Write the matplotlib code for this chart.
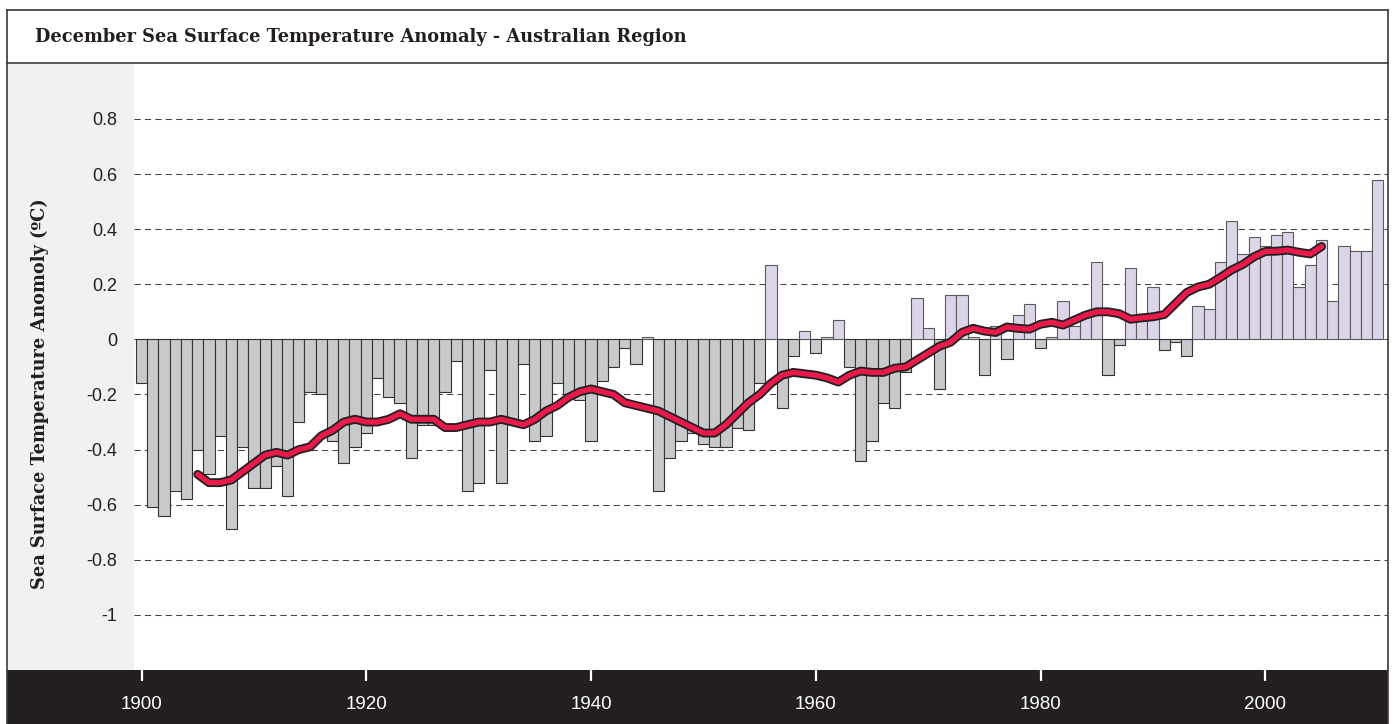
import numpy as np
import matplotlib
matplotlib.use("Agg")
import matplotlib.pyplot as plt
from matplotlib.patches import Rectangle
from matplotlib.lines import Line2D
from matplotlib import font_manager

W, H = 1394, 724

# December SST anomaly, one bar per year 1900-2010
years = np.arange(1900, 2011)
anomaly = [
    -0.16, -0.61, -0.64, -0.55, -0.58, -0.40, -0.49, -0.35, -0.69, -0.39,  # 1900s
    -0.54, -0.54, -0.46, -0.57, -0.30, -0.19, -0.20, -0.37, -0.45, -0.39,  # 1910s
    -0.34, -0.14, -0.21, -0.23, -0.43, -0.31, -0.31, -0.19, -0.08, -0.55,  # 1920s
    -0.52, -0.11, -0.52, -0.30, -0.09, -0.37, -0.35, -0.16, -0.20, -0.22,  # 1930s
    -0.37, -0.15, -0.10, -0.03, -0.09, 0.01, -0.55, -0.43, -0.37, -0.34,   # 1940s
    -0.38, -0.39, -0.39, -0.32, -0.33, -0.16, 0.27, -0.25, -0.06, 0.03,    # 1950s
    -0.05, 0.01, 0.07, -0.10, -0.44, -0.37, -0.23, -0.25, -0.12, 0.15,     # 1960s
    0.04, -0.18, 0.16, 0.16, 0.01, -0.13, 0.05, -0.07, 0.09, 0.13,         # 1970s
    -0.03, 0.01, 0.14, 0.05, 0.08, 0.28, -0.13, -0.02, 0.26, 0.07,         # 1980s
    0.19, -0.04, -0.01, -0.06, 0.12, 0.11, 0.28, 0.43, 0.31, 0.37,         # 1990s
    0.34, 0.38, 0.39, 0.19, 0.27, 0.36, 0.14, 0.34, 0.32, 0.32,            # 2000s
    0.58,
]

# 11-year running mean, 1905-2005
trend_years = np.arange(1905, 2006)
trend = [
    -0.49, -0.52, -0.52, -0.51, -0.48, -0.45, -0.42, -0.41, -0.42, -0.40,
    -0.39, -0.35, -0.33, -0.30, -0.29, -0.30, -0.30, -0.29, -0.27, -0.29,
    -0.29, -0.29, -0.32, -0.32, -0.31, -0.30, -0.30, -0.29, -0.30, -0.31,
    -0.29, -0.26, -0.24, -0.21, -0.19, -0.18, -0.19, -0.20, -0.23, -0.24,
    -0.25, -0.26, -0.28, -0.30, -0.32, -0.34, -0.34, -0.31, -0.27, -0.23,
    -0.20, -0.16, -0.13, -0.12, -0.125, -0.13, -0.14, -0.155, -0.13, -0.115,
    -0.12, -0.12, -0.105, -0.10, -0.075, -0.05, -0.025, -0.01, 0.025, 0.04,
    0.03, 0.025, 0.045, 0.04, 0.037, 0.055, 0.062, 0.052, 0.07, 0.088,
    0.10, 0.10, 0.093, 0.073, 0.078, 0.082, 0.09, 0.13, 0.17, 0.19,
    0.20, 0.225, 0.252, 0.272, 0.30, 0.319, 0.32, 0.324, 0.316, 0.31,
    0.337,
]

y_ticks = [0.8, 0.6, 0.4, 0.2, 0, -0.2, -0.4, -0.6, -0.8, -1]
y_labels = ["0.8", "0.6", "0.4", "0.2", "0", "-0.2", "-0.4", "-0.6", "-0.8", "-1"]
x_ticks = [1900, 1920, 1940, 1960, 1980, 2000]

title = "December Sea Surface Temperature Anomaly - Australian Region"
ylabel = "Sea Surface Temperature Anomoly (ºC)"

installed = {f.name for f in font_manager.fontManager.ttflist}
num_font = "Liberation Sans Narrow" if "Liberation Sans Narrow" in installed else "Liberation Sans"

NEG_FILL = "#c8c9cb"
POS_FILL = "#dcd5e8"
DARK = "#231f20"
RED = "#e8194b"


def box(x0, y0, x1, y1):
    # pixel box (top-left origin) -> figure fraction
    return [x0 / W, 1 - y1 / H, (x1 - x0) / W, (y1 - y0) / H]


fig = plt.figure(figsize=(W / 100, H / 100), dpi=100)
fig.patch.set_facecolor("white")

# grey strip on the left and dark band at the bottom
for (x0, y0, x1, y1, c) in [(7, 63, 134, 670, "#f1f1f1"), (7, 670, 1388, 724, DARK)]:
    l, b, w, h = box(x0, y0, x1, y1)
    fig.patches.append(Rectangle((l, b), w, h, transform=fig.transFigure,
                                 facecolor=c, edgecolor="none", zorder=-2))

# frame and title separator
for xs, ys in [([7, 1388], [10, 10]), ([7, 1388], [63, 63]),
               ([7, 7], [10, 724]), ([1388, 1388], [10, 724])]:
    fig.add_artist(Line2D([x / W for x in xs], [1 - y / H for y in ys],
                          transform=fig.transFigure, color="#3a3a3a", lw=1.2, zorder=-1))

fig.text(35 / W, 1 - 37 / H, title, ha="left", va="center",
         family="DejaVu Serif", weight="bold", fontsize=12.8, color="#231f20")

fig.text(40 / W, 1 - 394 / H, ylabel, ha="center", va="center", rotation=90,
         family="DejaVu Serif", weight="bold", fontsize=12.8, color="#231f20")

ax = fig.add_axes(box(134, 63, 1388, 670))
ax.set_zorder(2)
ax.set_facecolor("none")
ax.set_xlim(1899.33, 2010.91)
ax.set_ylim(-1.2, 1.003)

for v in y_ticks:
    ax.axhline(v, color="#444444", lw=0.75, ls=(0, (6, 4)), zorder=0)

vals = np.array(anomaly)
colors = [POS_FILL if v > 0 else NEG_FILL for v in vals]
edges = ["#5a5a5a" if v > 0 else "#333333" for v in vals]
ax.bar(years, vals, width=1.0, color=colors, edgecolor=edges, linewidth=0.8, zorder=2)

ax.plot(trend_years, trend, color=DARK, lw=6.4, solid_capstyle="round",
        solid_joinstyle="round", zorder=3)
ax.plot(trend_years, trend, color=RED, lw=3.8, solid_capstyle="round",
        solid_joinstyle="round", zorder=4)

for s in ax.spines.values():
    s.set_visible(False)

ax.set_yticks(y_ticks)
ax.set_yticklabels(y_labels, family=num_font, fontsize=13, color="#231f20")
ax.tick_params(axis="y", length=0, pad=12)

ax.set_xticks(x_ticks)
ax.set_xticklabels([str(x) for x in x_ticks], family=num_font, fontsize=13.5, color="white")
ax.tick_params(axis="x", direction="out", length=8, width=1.6, color="white", pad=11)

fig.savefig("out.png", dpi=100, facecolor="white")
